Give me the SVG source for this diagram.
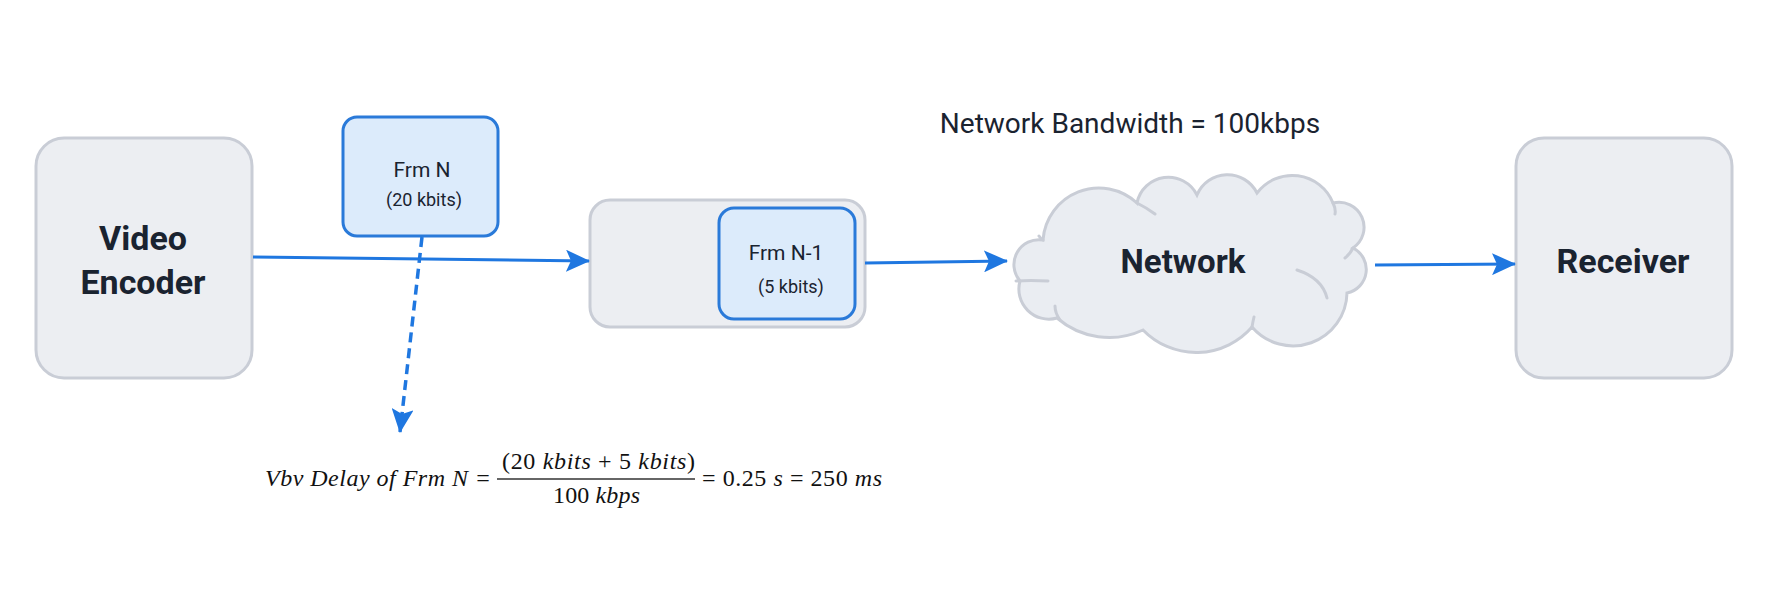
<svg xmlns="http://www.w3.org/2000/svg" width="1776" height="592" viewBox="0 0 1776 592">
<style>
.gbox{fill:#eceef2;stroke:#c9cdd6;stroke-width:3}
.bbox{fill:#dcebfb;stroke:#2a7ad9;stroke-width:3}
.big{font-family:Roboto,"Liberation Sans",sans-serif;font-weight:bold;font-size:34px;fill:#1a2330;text-anchor:middle}
.lbl{font-family:Roboto,"Liberation Sans",sans-serif;font-size:21px;fill:#1a2330;text-anchor:middle}
.sub{font-family:Roboto,"Liberation Sans",sans-serif;font-size:18px;fill:#1a2330;text-anchor:middle}
.conn{stroke:#1f77e0;stroke-width:3;fill:none}
.math{font-family:"Liberation Serif",serif;font-size:24px;fill:#111}
.it{font-style:italic}
</style>
<defs>
<marker id="ah" markerUnits="userSpaceOnUse" markerWidth="24" markerHeight="22" viewBox="0 0 24 22" refX="23" refY="11" orient="auto">
<path d="M0,0 L24,11 L0,22 L5,11 Z" fill="#1f77e0"/>
</marker>
</defs>
<rect width="1776" height="592" fill="#ffffff"/>

<g id="video-encoder">
<rect class="gbox" x="36" y="138" width="216" height="240" rx="28"/>
<text class="big" x="143" y="250">Video</text>
<text class="big" x="143" y="294">Encoder</text>
</g>

<g id="frm-n">
<rect class="bbox" x="343" y="117" width="155" height="119" rx="14"/>
<text class="lbl" x="422" y="177">Frm N</text>
<text class="sub" x="424" y="206">(20 kbits)</text>
</g>

<g id="buffer">
<rect class="gbox" x="590" y="200" width="275" height="127" rx="20"/>
</g>

<g id="frm-n-1">
<rect class="bbox" x="719" y="208" width="136" height="111" rx="15"/>
<text class="lbl" x="786" y="260">Frm N-1</text>
<text class="sub" x="791" y="293">(5 kbits)</text>
</g>

<g id="network">
<path d="M1043,240 A56,56 0 0 1 1137,203 A32,32 0 0 1 1197,195 A33,33 0 0 1 1257,193 A44,44 0 0 1 1333,203 A25,25 0 0 1 1353,248 A24,24 0 0 1 1347,293 A54,54 0 0 1 1252,327 A74,74 0 0 1 1143,330 A80,80 0 0 1 1057,318 A30,30 0 0 1 1020,281 A25,25 0 0 1 1043,240 Z" fill="#eaedf2" stroke="#c9cdd6" stroke-width="3"/>
<path d="M1039,236 Q1041,239 1043,240 M1137,203 Q1147,208 1155,214 M1333,203 Q1336,209 1335,214 M1353,248 Q1350,254 1345,258 M1297,270 Q1322,278 1327,298 M1252,327 Q1253,321 1254,317 M1060,320 Q1055,313 1055,306 M1016,281 Q1030,280 1048,281" fill="none" stroke="#c9cdd6" stroke-width="3" stroke-linecap="round"/>
<text class="big" x="1183" y="273" style="font-size:33px">Network</text>
</g>

<g id="receiver">
<rect class="gbox" x="1516" y="138" width="216" height="240" rx="28"/>
<text class="big" x="1623" y="273">Receiver</text>
</g>

<g id="bandwidth-label">
<text x="1130" y="133" style="font-family:Roboto,'Liberation Sans',sans-serif;font-size:28px;fill:#1a2330;text-anchor:middle">Network Bandwidth = 100kbps</text>
</g>

<g id="connectors">
<line class="conn" x1="253" y1="257" x2="589" y2="261" marker-end="url(#ah)"/>
<line class="conn" x1="865" y1="263" x2="1007" y2="261" marker-end="url(#ah)"/>
<line class="conn" x1="1375" y1="265" x2="1515" y2="264" marker-end="url(#ah)"/>
<line class="conn" x1="422" y1="237" x2="400" y2="432" stroke-dasharray="10 6" style="stroke-width:3.5" marker-end="url(#ah)"/>
</g>

<g id="formula">
<text class="math it" x="265" y="486" textLength="203" lengthAdjust="spacing">Vbv Delay of Frm N</text>
<text class="math" x="483" y="486" text-anchor="middle">=</text>
<text class="math" x="502" y="469" textLength="193" lengthAdjust="spacing">(20 <tspan class="it">kbits</tspan> + 5 <tspan class="it">kbits</tspan>)</text>
<line x1="497" y1="479" x2="695" y2="479" stroke="#333" stroke-width="1.3"/>
<text class="math" x="553" y="503" textLength="87" lengthAdjust="spacing">100 <tspan class="it">kbps</tspan></text>
<text class="math" x="702" y="486" textLength="180" lengthAdjust="spacing">= 0.25 <tspan class="it">s</tspan> = 250 <tspan class="it">ms</tspan></text>
</g>
</svg>
